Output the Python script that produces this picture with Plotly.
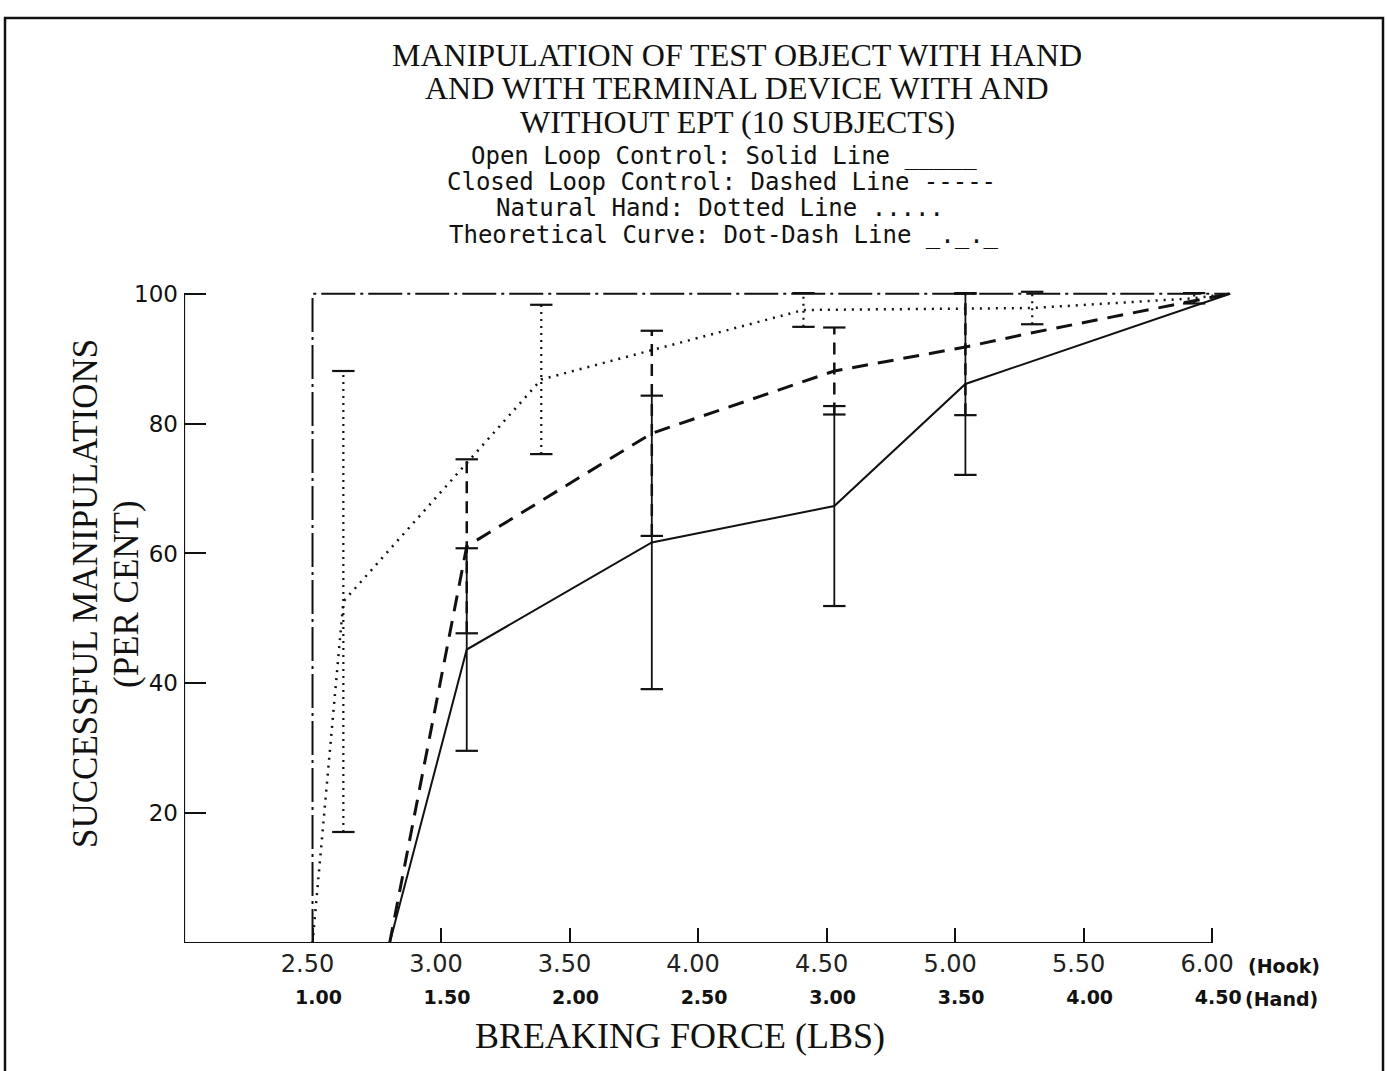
import plotly.graph_objects as go

# ---------------- data ----------------
hook_ticks = [2.5, 3.0, 3.5, 4.0, 4.5, 5.0, 5.5, 6.0]
hook_labels = ["2.50", "3.00", "3.50", "4.00", "4.50", "5.00", "5.50", "6.00"]
hand_labels = ["1.00", "1.50", "2.00", "2.50", "3.00", "3.50", "4.00", "4.50"]
y_ticks = [20, 40, 60, 80, 100]
y_labels = ["20", "40", "60", "80", "100"]

# Open loop control (solid)
open_x = [2.80, 3.10, 3.82, 4.53, 5.04, 6.07]
open_y = [0, 45.2, 61.7, 67.3, 86.1, 100]
open_err_hi = [0, 15.6, 22.6, 15.4, 14.0, 0]
open_err_lo = [0, 15.6, 22.6, 15.4, 14.0, 0]

# Closed loop control (dashed)
closed_x = [2.80, 3.10, 3.82, 4.53, 5.04, 5.30, 6.07]
closed_y = [0, 61.1, 78.5, 88.1, 91.8, 94.0, 100]
closed_err_hi = [0, 13.4, 15.8, 6.7, 8.2, 0, 0]
closed_err_lo = [0, 13.4, 15.8, 6.7, 10.5, 0, 0]

# Natural hand (dotted)
hand_x = [2.50, 2.62, 3.39, 4.41, 5.30, 5.93, 6.07]
hand_y = [0, 52.6, 86.8, 97.5, 97.8, 99.3, 100]
hand_err_hi = [0, 35.5, 11.5, 2.6, 2.5, 0.8, 0]
hand_err_lo = [0, 35.5, 11.5, 2.6, 2.5, 0.8, 0]

# Theoretical curve (dot-dash)
theory_x = [2.5, 2.5, 6.07]
theory_y = [0, 100, 100]

title_lines = ["MANIPULATION OF TEST OBJECT WITH HAND",
               "AND WITH TERMINAL DEVICE WITH AND",
               "WITHOUT EPT (10 SUBJECTS)"]
key_lines = ["Open Loop Control: Solid Line _____",
             "Closed Loop Control: Dashed Line -----",
             "Natural Hand: Dotted Line .....",
             "Theoretical Curve: Dot-Dash Line _._._"]
y_title_lines = ["SUCCESSFUL MANIPULATIONS", "(PER CENT)"]
x_title = "BREAKING FORCE (LBS)"

# ---------------- layout geometry ----------------
W, H = 1387, 1071
L, R, T, B = 184, 144, 284, 128
PW, PH = W - L - R, H - T - B
X_RANGE = [2.0, 6.12]
Y_RANGE = [0, 101.5]


def px2x(px):
    return (px - L) / PW


def py2y(py):
    return (H - B - py) / PH


def bars(xs, ys, hi, lo):
    bx, by, cx, cy = [], [], [], []
    for x, y, h, l in zip(xs, ys, hi, lo):
        if h > 0 or l > 0:
            bx += [x, x, None]
            by += [y - l, y + h, None]
            cx += [x, x]
            cy += [y - l, y + h]
    return bx, by, cx, cy


BLACK = "#111111"
fig = go.Figure()

series = [
    (open_x, open_y, open_err_hi, open_err_lo, "solid", 2, "solid", 1.8),
    (closed_x, closed_y, closed_err_hi, closed_err_lo, "16px,10px", 3, "12px,8px", 2.5),
    (hand_x, hand_y, hand_err_hi, hand_err_lo, "2px,6px", 2.5, "2px,5px", 2.2),
]

fig.add_trace(go.Scatter(x=theory_x, y=theory_y, mode="lines",
                         line=dict(color=BLACK, width=2, dash="34px,5px,3px,5px"),
                         showlegend=False, hoverinfo="skip"))

for xs, ys, hi, lo, dash, wdt, bdash, bw in series:
    bx, by, cx, cy = bars(xs, ys, hi, lo)
    fig.add_trace(go.Scatter(x=bx, y=by, mode="lines",
                             line=dict(color=BLACK, width=bw, dash=bdash),
                             showlegend=False, hoverinfo="skip"))
    fig.add_trace(go.Scatter(x=cx, y=cy, mode="markers",
                             marker=dict(symbol="line-ew", size=16,
                                         line=dict(color=BLACK, width=2.2)),
                             showlegend=False, hoverinfo="skip", cliponaxis=False))
    fig.add_trace(go.Scatter(x=xs, y=ys, mode="lines",
                             line=dict(color=BLACK, width=wdt, dash=dash),
                             showlegend=False, hoverinfo="skip"))

# dummy trace for the secondary (hand) axis
fig.add_trace(go.Scatter(x=[None], y=[None], xaxis="x2", showlegend=False, hoverinfo="skip"))

annotations = []
serif = "Liberation Serif"
for line, py in zip(title_lines, [55, 88, 122]):
    annotations.append(dict(text=line, x=px2x(737), y=py2y(py), xref="paper", yref="paper",
                            xanchor="center", yanchor="middle", showarrow=False,
                            font=dict(family=serif, size=32, color=BLACK)))
for line, py, pxc in zip(key_lines, [156, 182, 208, 235], [724, 721, 720, 724]):
    annotations.append(dict(text=line, x=px2x(pxc), y=py2y(py), xref="paper", yref="paper",
                            xanchor="center", yanchor="middle", showarrow=False,
                            font=dict(family="DejaVu Sans Mono", size=24, color=BLACK)))
for line, pxc in zip(y_title_lines, [85, 126]):
    annotations.append(dict(text=line, x=px2x(pxc), y=py2y(594), xref="paper", yref="paper",
                            xanchor="center", yanchor="middle", showarrow=False, textangle=-90,
                            font=dict(family=serif, size=35, color=BLACK)))
annotations.append(dict(text=x_title, x=px2x(680), y=py2y(1036), xref="paper", yref="paper",
                        xanchor="center", yanchor="middle", showarrow=False,
                        font=dict(family=serif, size=36, color=BLACK)))
annotations.append(dict(text="(Hook)", x=6.0, y=py2y(966), xref="x", yref="paper",
                        xanchor="left", yanchor="middle", showarrow=False, xshift=34,
                        font=dict(family="DejaVu Sans", size=19, color=BLACK, weight="bold")))
annotations.append(dict(text="(Hand)", x=6.0, y=py2y(999), xref="x", yref="paper",
                        xanchor="left", yanchor="middle", showarrow=False, xshift=31,
                        font=dict(family="DejaVu Sans", size=19, color=BLACK, weight="bold")))

shapes = [
    # axes lines
    dict(type="line", x0=2.0, x1=6.0, y0=0, y1=0, xref="x", yref="y",
         line=dict(color=BLACK, width=2.2)),
    dict(type="line", x0=2.0, x1=2.0, y0=0, y1=100, xref="x", yref="y",
         line=dict(color=BLACK, width=2.2)),
    # page border
    dict(type="rect", x0=px2x(5), x1=px2x(1383), y0=py2y(1085), y1=py2y(18),
         xref="paper", yref="paper", line=dict(color=BLACK, width=2.5)),
]

fig.update_layout(
    width=W, height=H, autosize=False,
    margin=dict(l=L, r=R, t=T, b=B, pad=0),
    paper_bgcolor="white", plot_bgcolor="white",
    showlegend=False,
    annotations=annotations, shapes=shapes,
    xaxis=dict(range=X_RANGE, tickmode="array", tickvals=hook_ticks, ticktext=hook_labels,
               ticks="inside", ticklen=15, tickwidth=2, tickcolor=BLACK,
               showline=False, showgrid=False, zeroline=False,
               tickfont=dict(family="DejaVu Sans", size=24, color="#222222"),
               ticklabelstandoff=4, ticklabelshift=-5),
    xaxis2=dict(range=X_RANGE, overlaying="x", anchor="y", side="bottom",
                tickmode="array", tickvals=hook_ticks, ticktext=hand_labels,
                ticks="", showline=False, showgrid=False, zeroline=False,
                tickfont=dict(family="DejaVu Sans", size=19, color=BLACK, weight="bold"),
                ticklabelstandoff=41, ticklabelshift=6),
    yaxis=dict(range=Y_RANGE, tickmode="array", tickvals=y_ticks, ticktext=y_labels,
               ticks="inside", ticklen=22, tickwidth=2, tickcolor=BLACK,
               showline=False, showgrid=False, zeroline=False,
               tickfont=dict(family="DejaVu Sans", size=23, color=BLACK),
               ticklabelstandoff=5),
)

fig.write_html("out.html", config={"displayModeBar": False},
               post_script="document.body.style.margin='0';")
